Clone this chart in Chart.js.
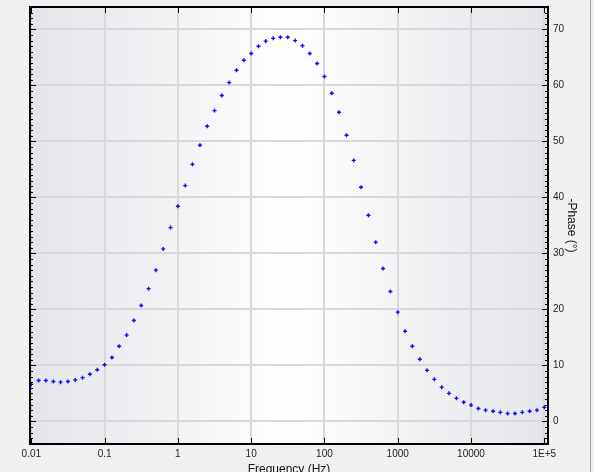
<!DOCTYPE html>
<html>
<head>
<meta charset="utf-8">
<title>Phase vs frequency</title>
<script src="https://cdn.jsdelivr.net/npm/chart.js@4.4.1/dist/chart.umd.min.js"></script>
<style>
    body { margin: 0; background: #f0f0f0; }
    canvas { display: block; }
</style>
</head>
<body>
<canvas id="phaseChart" width="594" height="472"></canvas>
<script>
// frequencies (Hz), 10 points per decade
const frequency = [
    0.01, 0.0126, 0.0158, 0.02, 0.0251, 0.0316, 0.0398, 0.0501, 0.0631, 0.0794,
    0.1, 0.126, 0.158, 0.2, 0.251, 0.316, 0.398, 0.501, 0.631, 0.794,
    1, 1.26, 1.58, 2, 2.51, 3.16, 3.98, 5.01, 6.31, 7.94,
    10, 12.6, 15.8, 20, 25.1, 31.6, 39.8, 50.1, 63.1, 79.4,
    100, 126, 158, 200, 251, 316, 398, 501, 631, 794,
    1000, 1260, 1580, 2000, 2510, 3160, 3980, 5010, 6310, 7940,
    10000, 12600, 15800, 20000, 25100, 31600, 39800, 50100, 63100, 79400,
    100000
];

// -phase (degrees)
const phase = [
    6.6, 7.3, 7.3, 7.1, 7.0, 7.1, 7.4, 7.8, 8.4, 9.2,
    10.1, 11.4, 13.4, 15.4, 18.0, 20.7, 23.7, 27.0, 30.8, 34.6,
    38.4, 42.1, 45.9, 49.3, 52.7, 55.5, 58.2, 60.5, 62.7, 64.5,
    65.7, 67.0, 67.9, 68.4, 68.6, 68.6, 68.0, 67.1, 65.7, 63.9,
    61.6, 58.6, 55.2, 51.1, 46.6, 41.8, 36.8, 32.0, 27.3, 23.2,
    19.5, 16.1, 13.4, 11.1, 9.1, 7.5, 6.1, 5.0, 4.1, 3.4,
    2.9, 2.3, 2.0, 1.8, 1.6, 1.4, 1.4, 1.6, 1.8, 2.0,
    2.5
];

const xTickValues = [0.01, 0.1, 1, 10, 100, 1000, 10000, 100000];
const xTickLabels = ["0.01", "0.1", "1", "10", "100", "1000", "10000", "1E+5"];
const yTickValues = [0, 10, 20, 30, 40, 50, 60, 70];

const labelFont = { family: "Liberation Sans, Arial, sans-serif", size: 10 };
const titleFont = { family: "Liberation Sans, Arial, sans-serif", size: 12 };

function noScalePadding(s) {
    s.paddingTop = 0;
    s.paddingBottom = 0;
    s.paddingLeft = 0;
    s.paddingRight = 0;
}

// canvas + plot background, frame, inward tick marks
const backgroundPlugin = {
    id: "background",
    beforeDraw(chart) {
        const { ctx, chartArea: a } = chart;
        ctx.save();
        ctx.fillStyle = "#f0f0f0";
        ctx.fillRect(0, 0, chart.width, chart.height);
        const g = ctx.createLinearGradient(a.left, 0, a.right, 0);
        g.addColorStop(0, "#e4e4ea");
        g.addColorStop(0.5, "#ffffff");
        g.addColorStop(1, "#e4e4ea");
        ctx.fillStyle = g;
        ctx.fillRect(a.left, a.top, a.right - a.left, a.bottom - a.top);
        ctx.restore();
    },
    afterDraw(chart) {
        const { ctx, chartArea: a, scales } = chart;
        ctx.save();
        ctx.strokeStyle = "#000";
        ctx.lineWidth = 1;
        ctx.beginPath();
        xTickValues.forEach(v => {
            const px = Math.round(scales.x.getPixelForValue(v)) + 0.5;
            ctx.moveTo(px, a.top); ctx.lineTo(px, a.top + 6);
            ctx.moveTo(px, a.bottom); ctx.lineTo(px, a.bottom - 6);
        });
        for (let v = Math.ceil(scales.y.min); v <= scales.y.max; v++) {
            const py = Math.round(scales.y.getPixelForValue(v)) + 0.5;
            const len = v % 10 === 0 ? 6 : 3;
            ctx.moveTo(a.left, py); ctx.lineTo(a.left + len, py);
            ctx.moveTo(a.right, py); ctx.lineTo(a.right - len, py);
        }
        ctx.stroke();
        ctx.lineWidth = 2;
        ctx.strokeRect(a.left, a.top, a.right - a.left, a.bottom - a.top);
        // window edge on the right
        ctx.strokeStyle = "#a0a0a0";
        ctx.lineWidth = 1;
        ctx.beginPath();
        ctx.moveTo(590.5, 0); ctx.lineTo(590.5, chart.height);
        ctx.stroke();
        ctx.restore();
    }
};

new Chart(document.getElementById("phaseChart"), {
    type: "scatter",
    data: {
        datasets: [{
            label: "-Phase",
            data: frequency.map((f, i) => ({ x: f, y: phase[i] })),
            pointStyle: "cross",
            pointRadius: 2,
            pointBorderWidth: 1.4,
            borderColor: "#0a0aff",
            backgroundColor: "#0a0aff"
        }]
    },
    options: {
        responsive: false,
        animation: false,
        devicePixelRatio: 1,
        layout: { padding: { left: 30, top: 7, right: 0, bottom: 0 } },
        plugins: { legend: { display: false }, tooltip: { enabled: false } },
        scales: {
            x: {
                type: "logarithmic",
                position: "bottom",
                min: 0.0096,
                max: 112300,
                afterBuildTicks: s => { s.ticks = xTickValues.map(v => ({ value: v })); },
                afterFit: s => { s.height = 28; noScalePadding(s); },
                ticks: {
                    font: labelFont,
                    color: "#222",
                    padding: 4,
                    maxRotation: 0,
                    autoSkip: false,
                    callback: (v, i) => xTickLabels[i]
                },
                grid: { color: "#d8d8d8", lineWidth: 2, drawTicks: false },
                border: { display: false },
                title: {
                    display: true,
                    text: "Frequency (Hz)",
                    font: titleFont,
                    color: "#111",
                    padding: { top: 0, bottom: -5 }
                }
            },
            y: {
                position: "right",
                min: -4.05,
                max: 74,
                afterBuildTicks: s => { s.ticks = yTickValues.map(v => ({ value: v })); },
                afterFit: s => { s.width = 46; noScalePadding(s); },
                ticks: { font: labelFont, color: "#222", padding: 5 },
                grid: { color: "#d8d8d8", lineWidth: 2, drawTicks: false },
                border: { display: false },
                title: {
                    display: true,
                    text: "-Phase (°)",
                    font: titleFont,
                    color: "#111",
                    padding: { top: 15, bottom: 0 }
                }
            }
        }
    },
    plugins: [backgroundPlugin]
});
</script>
</body>
</html>
